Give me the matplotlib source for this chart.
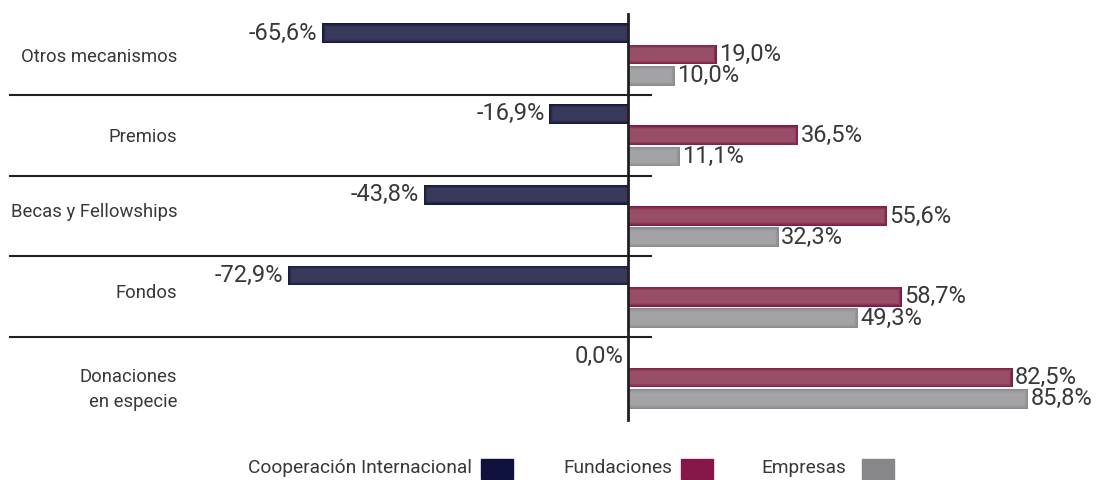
import numpy as np
import matplotlib.pyplot as plt
from matplotlib.colors import to_rgb
from matplotlib.patches import Rectangle

plt.rcParams["font.family"] = ["Roboto", "DejaVu Sans"]

categories = ["Otros mecanismos", "Premios", "Becas y Fellowships", "Fondos",
              "Donaciones\nen especie"]
series_names = ["Cooperación Internacional", "Fundaciones", "Empresas"]
cooperacion = [-65.6, -16.9, -43.8, -72.9, 0.0]
fundaciones = [19.0, 36.5, 55.6, 58.7, 82.5]
empresas = [10.0, 11.1, 32.3, 49.3, 85.8]

# dark edge / light centre for each series, plus the flat legend swatch
edge_cols = ["#16183d", "#7c1a46", "#8b8b8f"]
face_cols = ["#39395b", "#974e66", "#a3a3a6"]
key_cols = ["#10123e", "#861749", "#87878b"]
text_col = "#383838"

W, H = 1099, 480
fig = plt.figure(figsize=(W / 100, H / 100), dpi=100)
ax = fig.add_axes([0, 0, 1, 1])

px_per_pct = 4.662
x0 = 628
ax.set_xlim(-x0 / px_per_pct, (W - x0) / px_per_pct)
g0, gstep = 54.5, 80.75
ax.set_ylim((H - g0) / gstep, -g0 / gstep)
ax.axis("off")

pos = np.arange(len(categories))
offsets = [-0.264, 0.0, 0.264]
bar_h = 0.245
steps = 7  # layers from dark rim to light core

for k, vals in enumerate([cooperacion, fundaciones, empresas]):
    y = pos + offsets[k]
    vals = np.array(vals)
    c0, c1 = np.array(to_rgb(edge_cols[k])), np.array(to_rgb(face_cols[k]))
    for j in range(steps):
        t = j / (steps - 1)
        inset_px = 0.6 * j
        w = np.sign(vals) * np.maximum(np.abs(vals) - inset_px / px_per_pct, 0)
        h = bar_h - 2 * inset_px / gstep
        ax.barh(y, w, height=h, color=c0 + (c1 - c0) * t, zorder=2 + j * 0.1)
    for yy, v in zip(y, vals):
        lab = f"{v:.1f}%".replace(".", ",")
        if v < 0 or (k == 0 and v == 0):
            ax.text(v - 1.0, yy, lab, ha="right", va="center", fontsize=17,
                    color=text_col)
        else:
            ax.text(v + 0.5, yy, lab, ha="left", va="center", fontsize=17,
                    color=text_col)

# zero axis and group separators
ax.plot([0, 0], [-0.5, 4.53], color="#231f20", lw=2, zorder=4)
for s in pos[:-1] + 0.5:
    ax.plot([-132.6, 4.9], [s, s], color="#231f20", lw=1.5, zorder=4)

label_dy = [0.03, 0.02, -0.05, -0.05, 0.15]
for i, c in enumerate(categories):
    ax.text(-96.7, i + label_dy[i], c, ha="right", va="center", fontsize=13.3,
            color=text_col, linespacing=1.45)

# legend along the bottom
leg_text_x = [472, 672, 846]
leg_box_x = [481, 681, 862]
for name, tx, bx, col in zip(series_names, leg_text_x, leg_box_x, key_cols):
    fig.text(tx / W, 1 - 468 / H, name, ha="right", va="center",
             fontsize=13.8, color=text_col)
    fig.add_artist(Rectangle((bx / W, 1 - 479 / H), 32 / W, 20 / H,
                             transform=fig.transFigure, color=col))

plt.savefig("out.png", dpi=100)
